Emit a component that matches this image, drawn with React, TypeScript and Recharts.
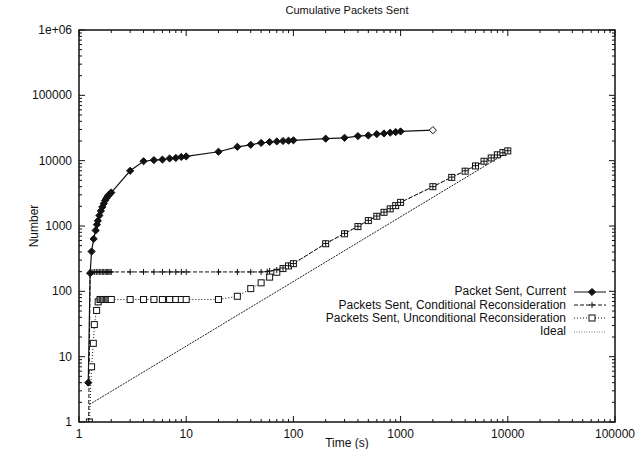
import React from "react";
import { ComposedChart, Line, XAxis, YAxis } from "recharts";

// ---- data (x = time in s, y = packets) ----
const currentPts: [number, number][] = [
  [1.22, 4], [1.27, 190], [1.31, 407], [1.37, 635], [1.43, 855], [1.47, 1050],
  [1.5, 1200], [1.55, 1450], [1.6, 1700], [1.65, 1950], [1.7, 2200], [1.75, 2450],
  [1.8, 2650], [1.85, 2850], [1.9, 3000], [1.95, 3150], [2, 3250],
  [3, 7000], [4, 9800], [5, 10200], [6, 10400], [7, 10800], [8, 11000], [9, 11400],
  [10, 11600], [20, 13700], [30, 16300], [40, 17500], [50, 18700], [60, 19300],
  [70, 19700], [80, 20000], [90, 20200], [100, 20500], [200, 21700], [300, 22400],
  [400, 23800], [500, 24300], [600, 25500], [700, 26100], [800, 26800], [900, 27400],
  [1000, 28000], [2000, 29300],
];

const conditionalPts: [number, number][] = [
  [1.23, 1], [1.27, 190], [1.3, 195], [1.35, 197], [1.4, 198], [1.45, 198], [1.5, 198],
  [1.55, 198], [1.6, 198], [1.65, 198], [1.7, 198], [1.75, 198], [1.8, 198], [1.85, 198],
  [1.9, 198], [1.95, 198], [2, 198], [3, 198], [4, 198], [5, 198], [6, 198], [7, 198],
  [8, 198], [9, 198], [10, 198], [20, 198], [30, 198], [40, 198], [50, 198], [57, 200],
  [60, 205], [70, 212], [80, 228], [90, 247], [100, 266], [200, 540], [300, 770],
  [400, 990], [500, 1220], [600, 1420], [700, 1630], [800, 1840], [900, 2060],
  [1000, 2300], [2000, 4000], [3000, 5600], [4000, 7000], [5000, 8400], [6000, 9800],
  [7000, 11000], [8000, 12200], [9000, 13200], [10000, 14200],
];

const unconditionalPts: [number, number][] = [
  [1.25, 1], [1.31, 7], [1.36, 16], [1.39, 31], [1.46, 51], [1.51, 69], [1.57, 75],
  [1.6, 75], [1.65, 75], [1.7, 75], [1.75, 75], [1.8, 75], [1.85, 75], [1.9, 75],
  [1.95, 75], [2, 75], [3, 75], [4, 75], [5, 75], [6, 75], [7, 75], [8, 75], [9, 75],
  [10, 75], [20, 75], [30, 84], [40, 110], [50, 135], [60, 165], [70, 196], [80, 223],
  [90, 245], [100, 265], [200, 535], [300, 760], [400, 980], [500, 1210], [600, 1410],
  [700, 1620], [800, 1830], [900, 2050], [1000, 2300], [2000, 4000], [3000, 5550],
  [4000, 6900], [5000, 8300], [6000, 9800], [7000, 11000], [8000, 12300],
  [9000, 13300], [10000, 14100],
];

const idealPts: [number, number][] = [
  [1.25, 1.85], [10000, 13500],
];

const xMajor = [1, 10, 100, 1000, 10000, 100000];
const xLabels = ["1", "10", "100", "1000", "10000", "100000"];
const yMajor = [1, 10, 100, 1000, 10000, 100000, 1000000];
const yLabels = ["1", "10", "100", "1000", "10000", "100000", "1e+06"];

const FONT = "'Liberation Sans', Arial, Helvetica, sans-serif";
const INK = "#111";
const W = 637;
const H = 449;
const MARGIN = { top: 30, right: 22, bottom: 0, left: 19 };
const Y_AXIS_W = 60;
const X_AXIS_H = 27;
// plot box implied by the margins and axis sizes above
const BOX = {
  left: MARGIN.left + Y_AXIS_W,
  right: W - MARGIN.right,
  top: MARGIN.top,
  bottom: H - MARGIN.bottom - X_AXIS_H,
};

const withMinor = (majors: number[]) => {
  const out: number[] = [];
  majors.forEach((m, i) => {
    out.push(m);
    if (i < majors.length - 1) for (let k = 2; k <= 9; k++) out.push(m * k);
  });
  return out;
};
const xTicks = withMinor(xMajor);
const yTicks = withMinor(yMajor);

const toRows = (pts: [number, number][]) => pts.map(([x, y]) => ({ x, y }));

// ---- markers ----
function Diamond({ cx, cy, hollow }: { cx: number; cy: number; hollow?: boolean }) {
  const r = 3.6;
  return (
    <path
      d={`M${cx},${cy - r}L${cx + r},${cy}L${cx},${cy + r}L${cx - r},${cy}Z`}
      fill={hollow ? "#fff" : INK}
      stroke={INK}
      strokeWidth={1}
    />
  );
}
function Plus({ cx, cy }: { cx: number; cy: number }) {
  const r = 3;
  return (
    <path d={`M${cx - r},${cy}H${cx + r}M${cx},${cy - r}V${cy + r}`} stroke={INK} strokeWidth={1} fill="none" />
  );
}
function Square({ cx, cy }: { cx: number; cy: number }) {
  const r = 3;
  return <rect x={cx - r} y={cy - r} width={2 * r} height={2 * r} fill="#fff" stroke={INK} strokeWidth={1} />;
}

const dotCurrent = (p: any) => (
  <Diamond key={`c${p.index}`} cx={p.cx} cy={p.cy} hollow={p.index === currentPts.length - 1} />
);
const dotCond = (p: any) => <Plus key={`p${p.index}`} cx={p.cx} cy={p.cy} />;
const dotUncond = (p: any) => <Square key={`s${p.index}`} cx={p.cx} cy={p.cy} />;

// ---- tick labels ----
const isMajor = (v: number) => Math.abs(Math.log10(v) - Math.round(Math.log10(v))) < 1e-9;

const BottomLabel = (p: any) => {
  const i = xMajor.indexOf(p.payload.value);
  if (i < 0) return <g />;
  return (
    <text x={p.x} y={p.y + 16} textAnchor="middle" fontSize={12} fontFamily={FONT} fill={INK}>
      {xLabels[i]}
    </text>
  );
};
const LeftLabel = (p: any) => {
  const i = yMajor.indexOf(p.payload.value);
  if (i < 0) return <g />;
  return (
    <text x={p.x - 7} y={p.y + 4} textAnchor="end" fontSize={12} fontFamily={FONT} fill={INK}>
      {yLabels[i]}
    </text>
  );
};

// ---- gnuplot frame: closed border with inward ticks on all sides ----
function Frame() {
  const lx = (v: number) => BOX.left + (Math.log10(v) / Math.log10(xMajor[xMajor.length - 1])) * (BOX.right - BOX.left);
  const ly = (v: number) => BOX.bottom - (Math.log10(v) / Math.log10(yMajor[yMajor.length - 1])) * (BOX.bottom - BOX.top);
  let d = "";
  xTicks.forEach((v) => {
    const x = lx(v);
    const len = isMajor(v) ? 6 : 3;
    d += `M${x},${BOX.bottom}V${BOX.bottom - len}M${x},${BOX.top}V${BOX.top + len}`;
  });
  yTicks.forEach((v) => {
    const y = ly(v);
    const len = isMajor(v) ? 6 : 3;
    d += `M${BOX.left},${y}H${BOX.left + len}M${BOX.right},${y}H${BOX.right - len}`;
  });
  return (
    <svg width={W} height={H} style={{ position: "absolute", left: 0, top: 0, pointerEvents: "none" }}>
      <path d={d} stroke={INK} strokeWidth={1} fill="none" />
      <rect
        x={BOX.left}
        y={BOX.top}
        width={BOX.right - BOX.left}
        height={BOX.bottom - BOX.top}
        fill="none"
        stroke={INK}
        strokeWidth={1.5}
      />
    </svg>
  );
}

// ---- legend ----
const legendItems = [
  { name: "Packet Sent, Current", dash: undefined as string | undefined, mark: "diamond" },
  { name: "Packets Sent, Conditional Reconsideration", dash: "4 2", mark: "plus" },
  { name: "Packets Sent, Unconditional Reconsideration", dash: "1 2", mark: "square" },
  { name: "Ideal", dash: "1 1.5", mark: "none" },
];

function ChartLegend() {
  return (
    <div style={{ position: "absolute", left: 300, top: 285, width: 310, fontFamily: FONT, fontSize: 12, color: INK }}>
      {legendItems.map((it) => (
        <div key={it.name} style={{ display: "flex", justifyContent: "flex-end", alignItems: "center", height: 13.4 }}>
          <span style={{ whiteSpace: "nowrap", lineHeight: "13px" }}>{it.name}</span>
          <svg width={40} height={12} style={{ marginLeft: 4 }}>
            <line x1={4} x2={36} y1={6} y2={6} stroke={it.mark === "none" ? "#777" : INK} strokeWidth={1} strokeDasharray={it.dash} />
            {it.mark === "diamond" && <Diamond cx={22} cy={6} />}
            {it.mark === "plus" && <Plus cx={22} cy={6} />}
            {it.mark === "square" && <Square cx={22} cy={6} />}
          </svg>
        </div>
      ))}
    </div>
  );
}

export default function App() {
  return (
    <div style={{ position: "absolute", left: 0, top: 0, width: W, height: H, background: "#fff", fontFamily: FONT }}>
      <ComposedChart width={W} height={H} margin={MARGIN}>
        <XAxis
          dataKey="x"
          type="number"
          scale="log"
          domain={[1, 100000]}
          allowDataOverflow
          ticks={xTicks}
          interval={0}
          tickSize={0}
          tickMargin={0}
          tick={<BottomLabel />}
          height={X_AXIS_H}
          axisLine={false}
        />
        <YAxis
          type="number"
          scale="log"
          domain={[1, 1000000]}
          allowDataOverflow
          ticks={yTicks}
          interval={0}
          tickSize={0}
          tickMargin={0}
          tick={<LeftLabel />}
          width={Y_AXIS_W}
          axisLine={false}
        />
        <Line
          data={toRows(idealPts)}
          dataKey="y"
          stroke="#222"
          strokeWidth={1}
          strokeDasharray="2 1"
          dot={false}
          isAnimationActive={false}
        />
        <Line
          data={toRows(unconditionalPts)}
          dataKey="y"
          stroke={INK}
          strokeWidth={1}
          strokeDasharray="1 2"
          dot={dotUncond}
          isAnimationActive={false}
        />
        <Line
          data={toRows(conditionalPts)}
          dataKey="y"
          stroke={INK}
          strokeWidth={1}
          strokeDasharray="4 2"
          dot={dotCond}
          isAnimationActive={false}
        />
        <Line
          data={toRows(currentPts)}
          dataKey="y"
          stroke={INK}
          strokeWidth={1.2}
          dot={dotCurrent}
          isAnimationActive={false}
        />
        <text x={347} y={14} textAnchor="middle" fontSize={11} fontFamily={FONT} fill={INK}>
          Cumulative Packets Sent
        </text>
        <text x={347} y={447} textAnchor="middle" fontSize={12} fontFamily={FONT} fill={INK}>
          Time (s)
        </text>
        <text x={38} y={226} textAnchor="middle" fontSize={12} fontFamily={FONT} fill={INK} transform="rotate(-90 38 226)">
          Number
        </text>
      </ComposedChart>
      <Frame />
      <ChartLegend />
    </div>
  );
}
